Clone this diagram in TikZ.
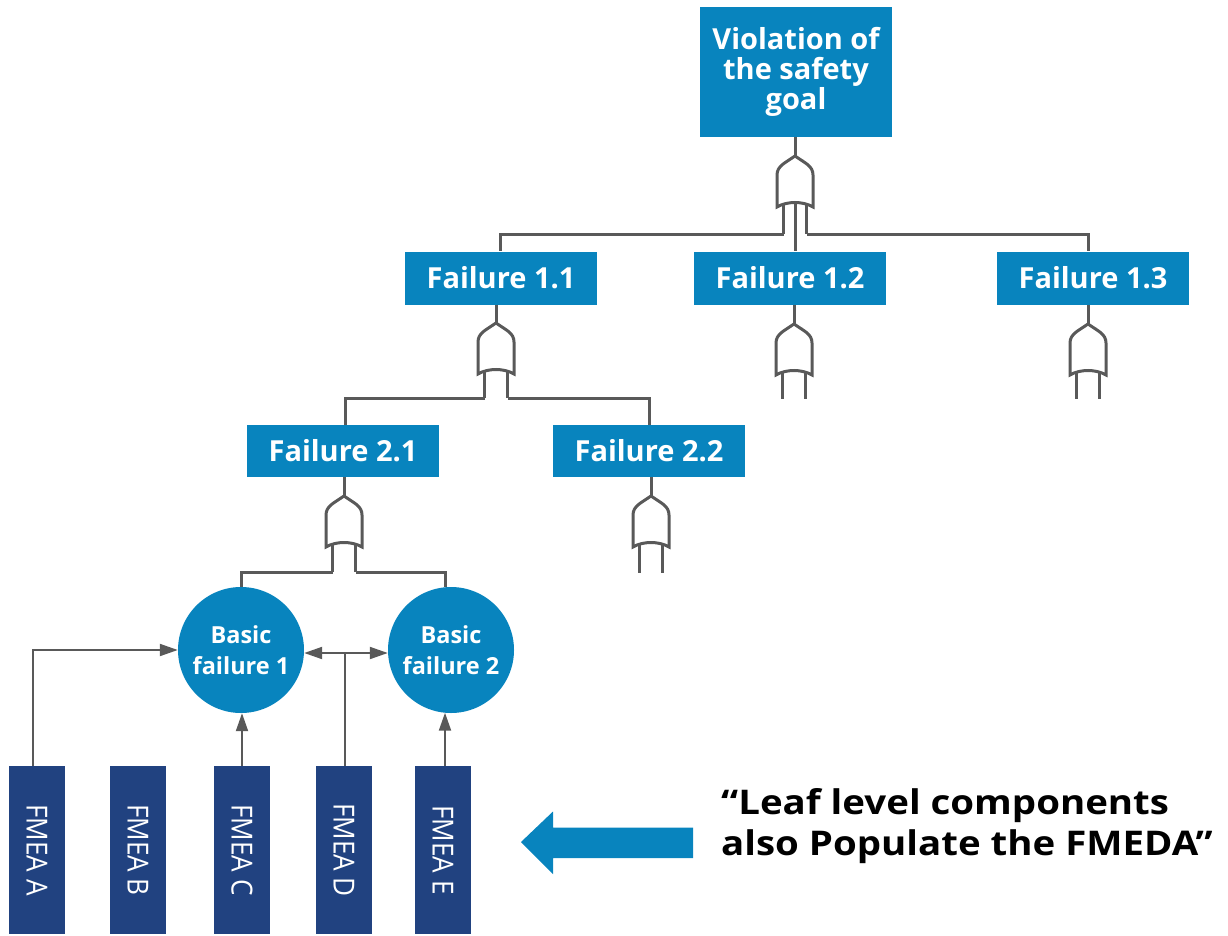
\documentclass[tikz,border=0pt]{standalone}
\usepackage{fontspec}
\setmainfont{Open Sans}
\usetikzlibrary{arrows.meta,calc}
\definecolor{fblue}{RGB}{8,132,190}
\definecolor{fnavy}{RGB}{33,66,128}
\definecolor{lgray}{RGB}{89,89,89}
\newcommand\fmeatxt[1]{\scalebox{0.9}[1]{#1}}
\tikzset{
  box/.style={fill=fblue, text=white, font=\fontsize{29}{30}\selectfont\bfseries,
    minimum width=192pt, minimum height=53pt, inner sep=0pt, align=center},
  basic/.style={circle, fill=fblue, text=white, font=\fontsize{23.5}{30.5}\selectfont\bfseries,
    minimum size=126pt, inner sep=0pt, align=center},
  fmea/.style={fill=fnavy, text=white, font=\fontsize{29}{32}\selectfont, rotate=-90,
    minimum width=168pt, minimum height=56pt, inner sep=0pt},
  gate/.style={draw=lgray, line width=3pt},
  link/.style={draw=lgray, line width=2pt},
  arr/.style={link, -{Triangle[length=18pt,width=12pt]}},
  darr/.style={link, {Triangle[length=18pt,width=12pt]}-{Triangle[length=18pt,width=12pt]}},
  pics/orgate/.style={code={
    \draw[gate] (0,0) .. controls (10,7) and (18,10) .. (18,19) -- (18,51)
      .. controls (8,45) and (-8,45) .. (-18,51) -- (-18,19)
      .. controls (-18,10) and (-10,7) .. (0,0) -- cycle;
    \draw[gate] (-11.5,48) -- (-11.5,#1);
    \draw[gate] (11.5,48) -- (11.5,#1);
    \coordinate (-tip) at (0,0);
    \coordinate (-bot) at (0,46.5);
    \coordinate (-l) at (-11.5,#1);
    \coordinate (-r) at (11.5,#1);
  }}
}
\begin{document}
\begin{tikzpicture}[x=1pt,y=-1pt]
\useasboundingbox (0,0) rectangle (1228,936);
% boxes
\node[box, minimum height=130pt] (top) at (796,72) {Violation of\\the safety\\goal};
\node[box] (f11) at (501,278) {Failure 1.1};
\node[box] (f12) at (790,278) {Failure 1.2};
\node[box] (f13) at (1093,278) {Failure 1.3};
\node[box, minimum height=52pt] (f21) at (343,451) {Failure 2.1};
\node[box, minimum height=52pt] (f22) at (649,451) {Failure 2.2};
\node[basic] (c1) at (241,650) {Basic\\failure 1};
\node[basic] (c2) at (451,650) {Basic\\failure 2};
\node[fmea] (fA) at (37,850) {\fmeatxt{FMEA A}};
\node[fmea] (fB) at (138,850) {\fmeatxt{FMEA B}};
\node[fmea] (fC) at (242,850) {\fmeatxt{FMEA C}};
\node[fmea] (fD) at (344,850) {\fmeatxt{FMEA D}};
\node[fmea] (fE) at (443,850) {\fmeatxt{FMEA E}};
% gates
\pic (g1) at (795,156) {orgate=78};
\pic (g11) at (496,323) {orgate=75};
\pic (g12) at (794,324) {orgate=75};
\pic (g13) at (1088,324) {orgate=75};
\pic (g21) at (344,496) {orgate=76};
\pic (g22) at (651,496) {orgate=77};
% stems
\draw[gate] (top.south -| g1-tip) -- (g1-tip);
\draw[gate] (f11.south -| g11-tip) -- (g11-tip);
\draw[gate] (f12.south -| g12-tip) -- (g12-tip);
\draw[gate] (f13.south -| g13-tip) -- (g13-tip);
\draw[gate] (f21.south -| g21-tip) -- (g21-tip);
\draw[gate] (f22.south -| g22-tip) -- (g22-tip);
% gate connections
\draw[gate] (g1-l) -| ($(f11.north)+(-1,0)$);
\draw[gate] (g1-r) -| ($(f13.north)+(-5,0)$);
\draw[gate] (g1-bot) -- (g1-bot |- f12.north);
\draw[gate] (g11-l) -| ($(f21.north)+(2,0)$);
\draw[gate] (g11-r) -| (f22.north);
\draw[gate] (g21-l) -| (c1.north);
\draw[gate] (g21-r) -| ($(c2.center)+(-6,-62.7)$);
% FMEA arrows (rotated boxes: west anchor is the top edge)
\draw[arr] ($(fA.west)+(-4,0)$) |- (c1.west);
\draw[arr] (fC.west) -- (fC.west |- c1.south);
\draw[link] ($(fD.west)+(1,0)$) -- ($(c1.east -| fD.west)+(1,3)$);
\draw[darr] ($(c1.east)+(0,3)$) -- ($(c2.west)+(0,3)$);
\draw[arr] ($(fE.west)+(2,0)$) -- ($(c2.center)+(-6,62.7)$);
% big arrow
\fill[fblue] (521,842) -- (553,811.5) -- (553,827.5) -- (693,827.5) -- (693,858) -- (553,858) -- (553,874) -- cycle;
\node[anchor=north west, inner sep=0pt, font=\fontsize{34}{41}\selectfont\bfseries] (quote) at (721,786)
  {\scalebox{1.13}[1]{\begin{tabular}{@{}l@{}}“Leaf level components\\also Populate the FMEDA”\end{tabular}}};
\end{tikzpicture}
\end{document}
